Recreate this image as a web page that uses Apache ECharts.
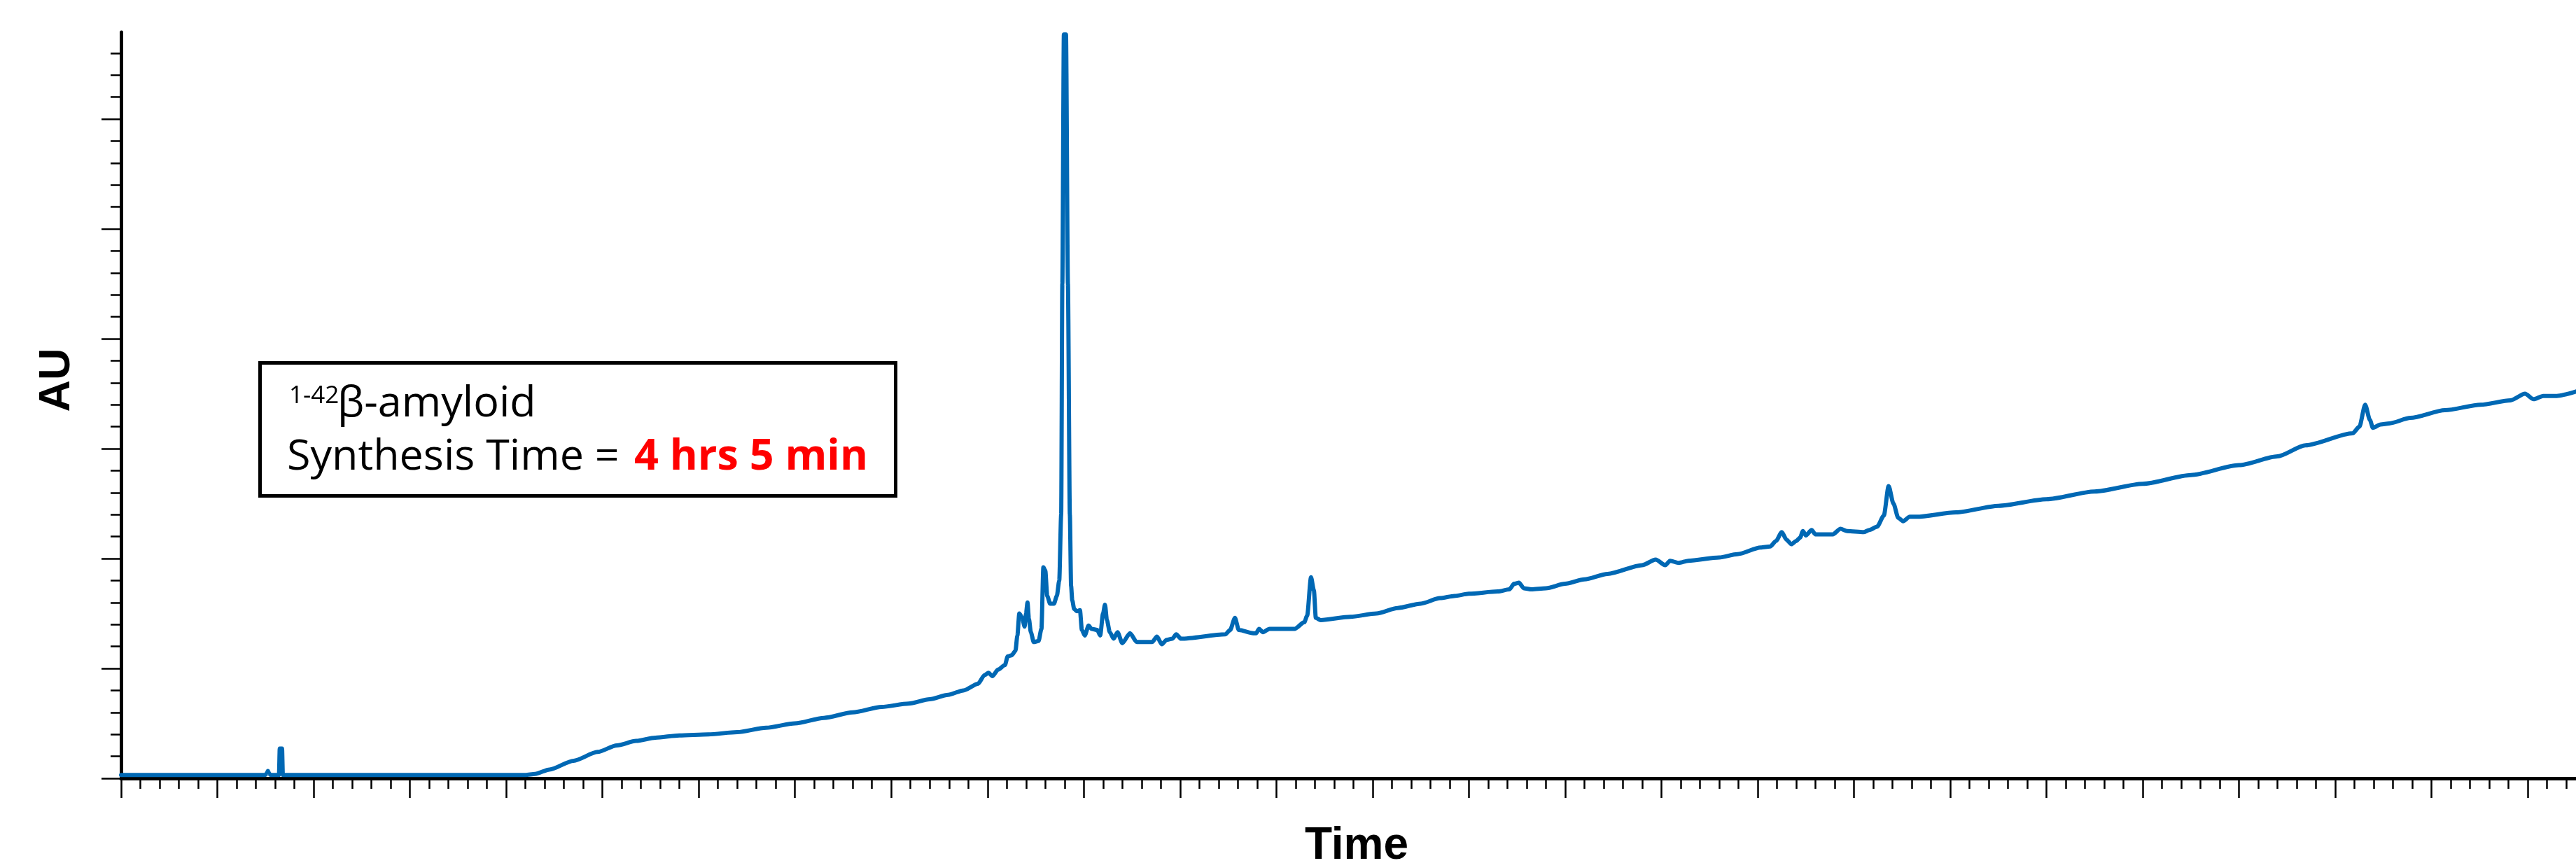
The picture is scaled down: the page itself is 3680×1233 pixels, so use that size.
<!DOCTYPE html>
<html><head><meta charset="utf-8">
<script src="https://cdn.jsdelivr.net/npm/echarts@6/dist/echarts.min.js"></script>
<style>html,body{margin:0;padding:0;background:#fff}#c{width:3680px;height:1233px}</style>
</head><body><div id="c"></div>
<script>
// Retention time (x) and absorbance (AU)
const timeValues = [
  0, 1.50, 1.515, 1.525, 1.535, 1.55, 1.64, 1.648, 1.672, 1.68,
  4.20, 4.30, 4.45, 4.70, 4.95, 5.15, 5.35, 5.55, 5.80, 6.10,
  6.40, 6.70, 7.00, 7.30, 7.60, 7.90, 8.18, 8.40, 8.59, 8.75,
  8.90, 8.97, 9.01, 9.05, 9.11, 9.18, 9.21, 9.25, 9.29, 9.31,
  9.33, 9.36, 9.385, 9.40, 9.415, 9.43, 9.45, 9.48, 9.53, 9.56,
  9.58, 9.60, 9.62, 9.65, 9.69, 9.72, 9.745, 9.765, 9.777, 9.793,
  9.815, 9.835, 9.855, 9.868, 9.88, 9.90, 9.93, 9.96, 9.98, 10.01,
  10.05, 10.08, 10.14, 10.17, 10.20, 10.22, 10.24, 10.27, 10.31, 10.35,
  10.40, 10.48, 10.55, 10.71, 10.76, 10.81, 10.86, 10.92, 10.96, 11.01,
  11.47, 11.52, 11.57, 11.61, 11.76, 11.79, 11.82, 11.86, 11.93, 12.19,
  12.29, 12.32, 12.36, 12.39, 12.41, 12.46, 12.77, 13.04, 13.26, 13.50,
  13.70, 13.85, 14.00, 14.30, 14.42, 14.47, 14.52, 14.57, 14.65, 14.80,
  15.00, 15.20, 15.44, 15.80, 15.94, 16.04, 16.09, 16.18, 16.28, 16.60,
  16.79, 17.03, 17.13, 17.19, 17.25, 17.30, 17.35, 17.40, 17.44, 17.47,
  17.50, 17.56, 17.60, 17.78, 17.86, 17.93, 18.10, 18.16, 18.24, 18.31,
  18.36, 18.41, 18.46, 18.51, 18.58, 18.65, 19.06, 19.50, 20.00, 20.50,
  21.00, 21.50, 22.00, 22.40, 22.69, 23.18, 23.25, 23.31, 23.36, 23.39,
  23.47, 23.56, 23.78, 24.14, 24.51, 24.82, 24.97, 25.06, 25.16, 25.30,
  25.50
];
const auValues = [
  0.03, 0.03, 0.05, 0.067, 0.05, 0.03, 0.03, 0.27, 0.27, 0.03,
  0.03, 0.04, 0.08, 0.16, 0.24, 0.30, 0.34, 0.37, 0.39, 0.40,
  0.42, 0.46, 0.50, 0.55, 0.60, 0.65, 0.68, 0.72, 0.76, 0.80,
  0.86, 0.94, 0.96, 0.93, 0.99, 1.03, 1.11, 1.12, 1.16, 1.30,
  1.50, 1.46, 1.38, 1.50, 1.60, 1.45, 1.33, 1.24, 1.25, 1.36,
  1.92, 1.89, 1.66, 1.59, 1.59, 1.66, 1.80, 2.40, 4.50, 6.77,
  6.77, 4.50, 2.40, 1.75, 1.62, 1.54, 1.52, 1.53, 1.35, 1.30,
  1.39, 1.36, 1.35, 1.30, 1.50, 1.58, 1.44, 1.33, 1.27, 1.33,
  1.23, 1.32, 1.24, 1.24, 1.29, 1.22, 1.26, 1.27, 1.31, 1.27,
  1.31, 1.35, 1.46, 1.35, 1.32, 1.32, 1.36, 1.33, 1.36, 1.36,
  1.42, 1.48, 1.83, 1.71, 1.46, 1.44, 1.47, 1.50, 1.55, 1.59,
  1.64, 1.66, 1.68, 1.70, 1.72, 1.77, 1.78, 1.73, 1.72, 1.73,
  1.77, 1.81, 1.86, 1.94, 1.99, 1.94, 1.98, 1.96, 1.98, 2.01,
  2.04, 2.10, 2.11, 2.16, 2.24, 2.17, 2.13, 2.16, 2.19, 2.25,
  2.21, 2.26, 2.22, 2.22, 2.27, 2.25, 2.24, 2.26, 2.29, 2.39,
  2.66, 2.50, 2.37, 2.34, 2.38, 2.38, 2.42, 2.48, 2.54, 2.61,
  2.68, 2.76, 2.85, 2.93, 3.03, 3.14, 3.20, 3.40, 3.26, 3.19,
  3.22, 3.23, 3.28, 3.35, 3.40, 3.44, 3.50, 3.45, 3.48, 3.48,
  3.52
];
// Axis tick positions
const xMajorTicks = [];
const xMinorTicks = [];
for (let i = 0; i <= 127; i++) {
  const v = Math.round(i * 2) / 10;
  if (i % 5 === 0) xMajorTicks.push(v); else xMinorTicks.push(v);
}
const yMajorTicks = [];
const yMinorTicks = [];
for (let i = 0; i <= 33; i++) {
  const v = Math.round(i * 2) / 10;
  if (i % 5 === 0) yMajorTicks.push(v); else yMinorTicks.push(v);
}
const xTitle = 'Time';
const yTitle = 'AU';

const X_MAX = 25.5, Y_MAX = 6.79;
const chart = echarts.init(document.getElementById('c'), null, {renderer: 'canvas'});
const tickStyle = {color: '#000', width: 2.5};
const titleStyle = {fontFamily: '"Liberation Sans", Arial, sans-serif', fontWeight: 'bold', fontSize: 64, color: '#000'};
const boxFont = '"Open Sans", "Noto Sans", sans-serif';
chart.setOption({
  backgroundColor: '#fff',
  animation: false,
  grid: {left: 173, right: 0, top: 46, bottom: 121, containLabel: false, outerBoundsMode: 'none'},
  xAxis: [
    {type: 'value', min: 0, max: X_MAX, position: 'bottom',
     axisLine: {show: true, onZero: false, lineStyle: {color: '#000', width: 5}},
     axisTick: {show: true, customValues: xMajorTicks, length: 28, lineStyle: tickStyle},
     axisLabel: {show: false}, splitLine: {show: false},
     name: xTitle, nameLocation: 'middle', nameGap: 65,
     nameTextStyle: Object.assign({padding: [0, 0, 0, 23]}, titleStyle)},
    {type: 'value', min: 0, max: X_MAX, position: 'bottom',
     axisLine: {show: false, onZero: false},
     axisTick: {show: true, customValues: xMinorTicks, length: 15, lineStyle: tickStyle},
     axisLabel: {show: false}, splitLine: {show: false}}
  ],
  yAxis: [
    {type: 'value', min: 0, max: Y_MAX, position: 'left',
     axisLine: {show: true, onZero: false, lineStyle: {color: '#000', width: 5}},
     axisTick: {show: true, customValues: yMajorTicks, length: 28, lineStyle: tickStyle},
     axisLabel: {show: false}, splitLine: {show: false},
     name: yTitle, nameLocation: 'middle', nameGap: 60,
     nameTextStyle: Object.assign({padding: [0, 0, 0, 72]}, titleStyle, {fontSize: 63})},
    {type: 'value', min: 0, max: Y_MAX, position: 'left',
     axisLine: {show: false, onZero: false},
     axisTick: {show: true, customValues: yMinorTicks, length: 15, lineStyle: tickStyle},
     axisLabel: {show: false}, splitLine: {show: false}}
  ],
  series: [{
    type: 'line', xAxisIndex: 0, yAxisIndex: 0,
    data: timeValues.map((t, i) => [t, auValues[i]]),
    showSymbol: false, symbol: 'none', smooth: 0.25, smoothMonotone: 'x',
    lineStyle: {color: '#0068b4', width: 6, join: 'round', cap: 'round'},
    z: 3
  }],
  graphic: [
    {type: 'rect', z: 10, shape: {x: 371.5, y: 518.5, width: 908, height: 190},
     style: {fill: '#fff', stroke: '#000', lineWidth: 5}},
    {type: 'text', z: 11, x: 413, y: 566,
     style: {text: '1-42', fontFamily: boxFont, fontSize: 35, fill: '#000', verticalAlign: 'middle', align: 'left'}},
    {type: 'text', z: 11, x: 482, y: 578,
     style: {text: 'β-amyloid', fontFamily: boxFont, fontSize: 61, fill: '#000', verticalAlign: 'middle', align: 'left'}},
    {type: 'text', z: 11, x: 410, y: 654,
     style: {text: 'Synthesis Time = ', fontFamily: boxFont, fontSize: 61, fill: '#000', verticalAlign: 'middle', align: 'left'}},
    {type: 'text', z: 11, x: 906, y: 654,
     style: {text: '4 hrs 5 min', fontFamily: boxFont, fontSize: 61, fontWeight: 'bold', fill: '#ff0000', verticalAlign: 'middle', align: 'left'}}
  ]
});
</script>
</body></html>
